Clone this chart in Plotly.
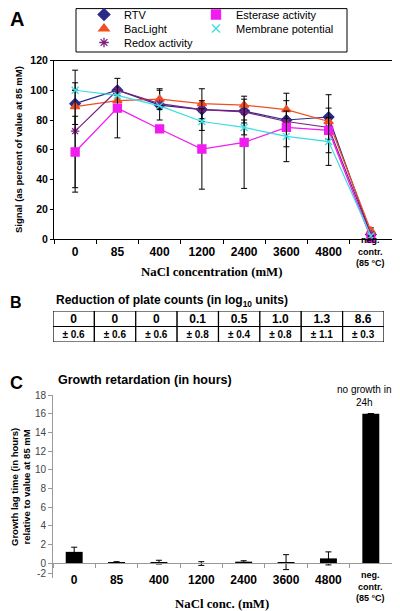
import plotly.graph_objects as go

# ---------------- data ----------------
categories = ["0", "85", "400", "1200", "2400", "3600", "4800", "neg"]
tick_labels = ["0", "85", "400", "1200", "2400", "3600", "4800"]
neg_label = "neg.<br>contr.<br>(85 °C)"

rtv = [91, 100, 90, 87, 86, 80, 82, 3]
rtv_err = [14, None, 10, 14, 8, 18, 15, 3]
baclight = [89, 93, 94, 91, 90, 87, 79, 5.5]
baclight_err = [None, None, 7, None, None, 6, None, 2]
redox = [72.5, 100, 91, 87, 85.5, 79, 75, 3]
redox_err = [41, None, None, 6, None, None, None, None]
esterase = [58.5, 88, 74, 60.5, 65, 75, 73, 0.5]
esterase_err = [24, 20, 2, 27, 31, None, 15, None]
membrane = [100, 96.5, 89.5, 79, 75, 69, 65.5, 2]
membrane_err = [None, None, None, None, 5, 17, 16, None]

plate_reduction = ["0", "0", "0", "0.1", "0.5", "1.0", "1.3", "8.6"]
plate_sd = ["± 0.6", "± 0.6", "± 0.6", "± 0.8", "± 0.4", "± 0.8", "± 1.1", "± 0.3"]

growth_lag = [1.2, 0.05, 0.1, -0.05, 0.15, 0.1, 0.5, 16]
growth_err = [0.5, 0.1, 0.2, 0.2, 0.1, 0.8, 0.7, None]
growth_ticks = [-1.07, 0, 2, 4, 6, 8, 10, 12, 14, 16, 18]
growth_ticktext = ["-2", "0", "2", "4", "6", "8", "10", "12", "14", "16", "18"]

# page has an 8px body margin: map page pixels to paper fractions
OFF = 8
W = 392
H = 603
def py(p):
    return 1 - (p - OFF) / H
def px(p):
    return (p - OFF) / W

sans = "Liberation Sans, Arial, sans-serif"
serif = "Liberation Serif, Times New Roman, serif"

fig = go.Figure()

series = [
    ("RTV", rtv, rtv_err, "#2A2A88", "diamond", 8, "legend", 104, 14.5),
    ("BacLight", baclight, baclight_err, "#F04E23", "triangle-up", 8, "legend2", 104, 28.5),
    ("Redox activity", redox, redox_err, "#7E2080", "asterisk-open", 7, "legend3", 104, 42.5),
    ("Esterase activity", esterase, esterase_err, "#F01CF0", "square", 8, "legend4", 216, 14.5),
    ("Membrane potential", membrane, membrane_err, "#3CDCE0", "x-thin-open", 7, "legend5", 216, 28.5),
]
for name, vals, err, col, sym, ms, leg, lx, ly in series:
    fig.add_trace(go.Scatter(
        x=categories, y=vals, mode="lines+markers", name=name,
        line=dict(color=col, width=1.2),
        marker=dict(symbol=sym, size=ms, color=col, line=dict(color=col, width=1.3)),
        error_y=dict(type="data", array=err, visible=True, color="black",
                     thickness=1, width=3),
        showlegend=False, cliponaxis=False, xaxis="x", yaxis="y"))
legend_layouts = {}
for name, vals, err, col, sym, ms, leg, lx, ly in series:
    fig.add_trace(go.Scatter(
        x=[None], y=[None], mode="markers", name=name,
        marker=dict(symbol=sym, size=ms + 1, color=col, line=dict(color=col, width=1.3)),
        showlegend=True, legend=leg, xaxis="x", yaxis="y"))
    legend_layouts[leg] = dict(x=px(lx - 20), y=py(ly), xanchor="left", yanchor="middle",
                               bgcolor="rgba(0,0,0,0)", borderwidth=0,
                               font=dict(size=11, family=sans, color="black"),
                               itemwidth=30)

# table panel B, drawn as two rows of outlined cells
fig.add_trace(go.Bar(
    x=categories, y=[1] * 8, base=[1] * 8, width=1, text=plate_reduction,
    texttemplate="<b>%{text}</b>", textposition="inside", insidetextanchor="middle",
    textangle=0, constraintext="none",
    textfont=dict(size=12, color="black", family=sans),
    marker=dict(color="white", line=dict(color="black", width=1.2)),
    showlegend=False, hoverinfo="skip", cliponaxis=False, xaxis="x3", yaxis="y3"))
fig.add_trace(go.Bar(
    x=categories, y=[1] * 8, base=[0] * 8, width=1, text=plate_sd,
    texttemplate="<b>%{text}</b>", textposition="inside", insidetextanchor="middle",
    textangle=0, constraintext="none",
    textfont=dict(size=10, color="black", family=sans),
    marker=dict(color="white", line=dict(color="black", width=1.2)),
    showlegend=False, hoverinfo="skip", cliponaxis=False, xaxis="x3", yaxis="y3"))

# bars panel C
fig.add_trace(go.Bar(
    x=categories, y=growth_lag, width=0.4, marker=dict(color="black", line=dict(width=0)),
    error_y=dict(type="data", array=growth_err, visible=True, color="black",
                 thickness=1, width=3),
    showlegend=False, xaxis="x2", yaxis="y2"))

annotations = [
    dict(text="<b>A</b>", x=px(8), y=py(19), xanchor="left", yanchor="middle",
         font=dict(size=20)),
    dict(text="<b>B</b>", x=px(8), y=py(302), xanchor="left", yanchor="middle",
         font=dict(size=16)),
    dict(text="<b>C</b>", x=px(8), y=py(383), xanchor="left", yanchor="middle",
         font=dict(size=18)),
    dict(text="<b>Reduction of plate counts (in log<sub>10</sub> units)</b>",
         x=px(54), y=py(301), xanchor="left", yanchor="middle", font=dict(size=12)),
    dict(text="<b>Growth retardation (in hours)</b>",
         x=px(56), y=py(380), xanchor="left", yanchor="middle", font=dict(size=12.5)),
    dict(text="<b>Signal (as percent of value at 85 mM)</b>", x=px(18), y=py(150),
         textangle=-90, xanchor="center", yanchor="middle", font=dict(size=9.5)),
    dict(text="<b>NaCl concentration (mM)</b>", x=px(211), y=py(272),
         xanchor="center", yanchor="middle", font=dict(family=serif, size=12.8)),
    dict(text="<b>Growth lag time (in hours)<br>relative to value at 85 mM</b>",
         x=px(20), y=py(487), textangle=-90, xanchor="center", yanchor="middle",
         font=dict(size=9.5)),
    dict(text="<b>NaCl conc. (mM)</b>", x=px(222), y=py(604),
         xanchor="center", yanchor="middle", font=dict(family=serif, size=12.8)),
    dict(text="no growth in<br>24h", x=px(393), y=py(396), xanchor="right",
         yanchor="middle", align="center", font=dict(size=10)),
]
for a in annotations:
    a.update(xref="paper", yref="paper", showarrow=False)
annotations += [
    dict(text="<b>%s</b>" % neg_label, x="neg", y=py(233), xref="x", yref="paper",
         yanchor="top", showarrow=False, font=dict(size=9)),
    dict(text="<b>%s</b>" % neg_label, x="neg", y=py(568), xref="x2", yref="paper",
         yanchor="top", showarrow=False, font=dict(size=9)),
]

fig.update_layout(
    width=W, height=H, margin=dict(l=0, r=0, t=0, b=0, autoexpand=False),
    paper_bgcolor="white", plot_bgcolor="white", barmode="overlay",
    font=dict(family=sans, color="black"),
    xaxis=dict(domain=[px(54), px(392)], anchor="y", type="category",
               range=[-0.5, 7.5], tickmode="array", tickvals=categories[:7],
               ticktext=["<b>%s</b>" % t for t in tick_labels],
               tickfont=dict(size=12), tickson="boundaries",
               ticks="outside", ticklen=4, tickcolor="black",
               ticklabelstandoff=2,
               showline=True, linecolor="black", linewidth=1, mirror=True,
               showgrid=False, zeroline=False),
    yaxis=dict(domain=[py(239), py(60.5)], anchor="x", range=[0, 120],
               tickvals=[0, 20, 40, 60, 80, 100, 120],
               ticktext=["<b>%d</b>" % v for v in [0, 20, 40, 60, 80, 100, 120]],
               tickfont=dict(size=10.5), ticks="outside", ticklen=3, tickcolor="black",
               showline=True, linecolor="black", linewidth=1, mirror=True,
               showgrid=False, zeroline=False),
    xaxis2=dict(domain=[px(53), px(392)], anchor="free", position=py(563),
                type="category", range=[-0.5, 7.5], tickmode="array",
                tickvals=categories[:7],
                ticktext=["<b>%s</b>" % t for t in tick_labels],
                tickfont=dict(size=12, color="black"), tickson="boundaries",
                ticks="outside", ticklen=4, tickcolor="#999999",
                ticklabelstandoff=6,
                showline=True, linecolor="#999999", linewidth=1,
                showgrid=False, zeroline=False),
    yaxis2=dict(domain=[py(578), py(395)], anchor="x2", range=[-1.6, 18],
                tickvals=growth_ticks, ticktext=growth_ticktext,
                tickfont=dict(size=10, color="#444444"), ticks="outside", ticklen=4,
                tickcolor="#999999", showline=True, linecolor="#999999", linewidth=1,
                showgrid=False, zeroline=False),
    xaxis3=dict(domain=[px(53), px(384)], anchor="y3", type="category",
                range=[-0.5, 7.5], visible=False),
    yaxis3=dict(domain=[py(342), py(311)], anchor="x3", range=[0, 2], visible=False),
    shapes=[dict(type="rect", xref="paper", yref="paper",
                 x0=px(76), x1=px(347), y0=py(52), y1=py(8.6),
                 line=dict(color="black", width=1), fillcolor="rgba(0,0,0,0)")],
    annotations=annotations,
    **legend_layouts,
)

fig.write_html("out.html")
